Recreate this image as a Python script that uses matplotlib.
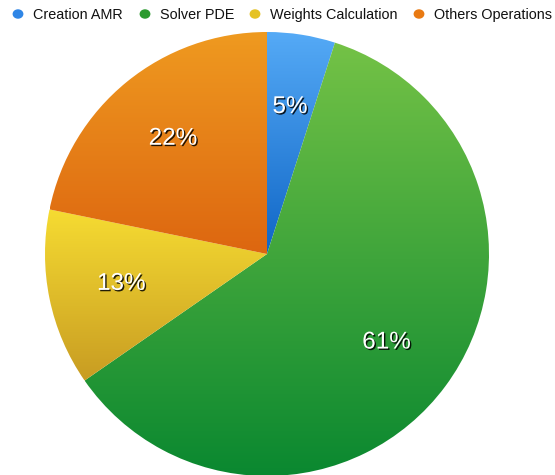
import numpy as np
import matplotlib.pyplot as plt
import matplotlib.patheffects as pe
from matplotlib.colors import LinearSegmentedColormap

# Share of total runtime per stage
labels = ["Creation AMR", "Solver PDE", "Weights Calculation", "Others Operations"]
shares = [5, 61, 13, 22]
top_colors = ["#55aaf6", "#74c246", "#f6dc32", "#ef9a20"]
bottom_colors = ["#1066c6", "#0a8830", "#c89c22", "#dd6610"]
dot_colors = ["#2f86e6", "#2b9a2e", "#e5c224", "#e97a12"]

plt.rcParams["font.family"] = ["Liberation Sans", "DejaVu Sans"]

fig = plt.figure(figsize=(5.55, 4.75), dpi=100)
ax = fig.add_axes([45 / 555, -1 / 475, 444 / 555, 444 / 475])

wedges, _ = ax.pie(shares, startangle=90, counterclock=False, radius=1.0,
                   wedgeprops=dict(linewidth=0))
ax.set_aspect("equal")
ax.axis("off")

# vertical gradient fill clipped to each wedge
grad = np.linspace(1, 0, 256).reshape(-1, 1)
for w, c0, c1 in zip(wedges, top_colors, bottom_colors):
    w.set_facecolor("none")
    verts = w.get_path().vertices
    x0, y0 = verts.min(axis=0)
    x1, y1 = verts.max(axis=0)
    cmap = LinearSegmentedColormap.from_list("g", [c1, c0])
    im = ax.imshow(grad, cmap=cmap, extent=[x0, x1, y0, y1], aspect="auto",
                   interpolation="bicubic", origin="upper", zorder=1)
    im.set_clip_path(w)
ax.set_xlim(-1, 1)
ax.set_ylim(-1, 1)

# percentage labels
total = sum(shares)
start = 90.0
shadow = [pe.withSimplePatchShadow(offset=(1, -1), shadow_rgbFace="black", alpha=0.85)]
for s in shares:
    span = 360.0 * s / total
    mid = np.deg2rad(start - span / 2)
    start -= span
    ax.text(0.67 * np.cos(mid), 0.67 * np.sin(mid), f"{s}%", color="white",
            fontsize=17.5, ha="center", va="center", zorder=3, path_effects=shadow)

# legend row across the top
dot_x = [18, 145, 255, 419]
for x, lab, col in zip(dot_x, labels, dot_colors):
    fig.patches.append(plt.Circle((x / 555, 1 - 14 / 475), 4.7 / 555,
                                  transform=fig.transFigure, color=col,
                                  figure=fig))
    fig.text((x + 15) / 555, 1 - 15 / 475, lab, fontsize=10.4, va="center",
             ha="left", color="#111111")

fig.savefig("out.png", dpi=100)
